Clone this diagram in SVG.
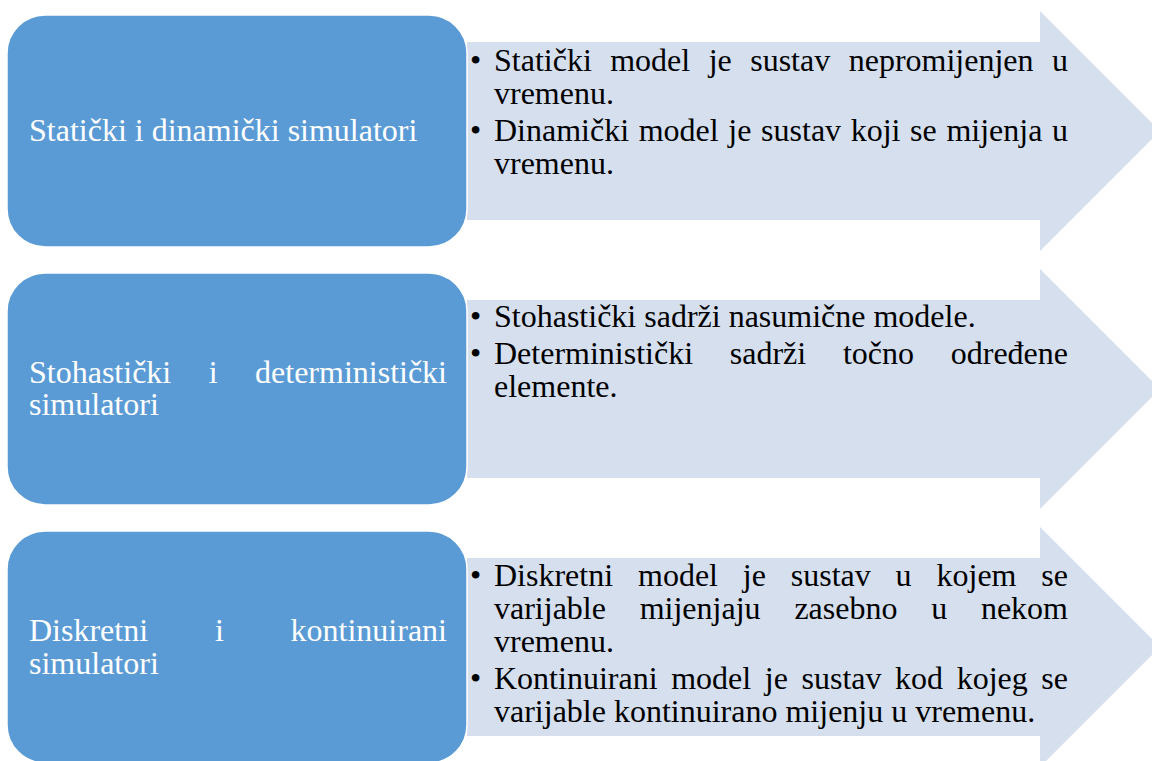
<svg xmlns="http://www.w3.org/2000/svg" width="1152" height="761" viewBox="0 0 1152 761">
<style>
.box{fill:#5B9BD5;stroke:#FFFFFF;stroke-width:1.5}
.arrow{fill:#D5DFEE;stroke:none}
.lt{font-family:"Liberation Serif","Times New Roman",serif;font-size:32px;fill:#FFFFFF}
.rt{font-family:"Liberation Serif","Times New Roman",serif;font-size:32px;fill:#000000}
.e{text-anchor:end}
</style>
<rect width="1152" height="761" fill="#FFFFFF"/>
<g id="connectors"></g>

<g id="arrow1">
<polygon class="arrow" points="467,42 1040,42 1040,11 1160,131 1040,251 1040,220 467,220"/>
<text class="rt" x="470" y="71">•</text>
<text class="rt" y="71"><tspan x="494">Statički</tspan><tspan x="610.2">model</tspan><tspan x="708.7">je</tspan><tspan x="750.2">sustav</tspan><tspan x="848.7">nepromijenjen</tspan></text>
<text class="rt e" x="1068" y="71">u</text>
<text class="rt" x="494" y="104">vremenu.</text>
<text class="rt" x="470" y="141">•</text>
<text class="rt" y="141"><tspan x="494">Dinamički</tspan><tspan x="638.7">model</tspan><tspan x="728.3">je</tspan><tspan x="761.1">sustav</tspan><tspan x="850.7">koji</tspan><tspan x="910.1">se</tspan><tspan x="946.4">mijenja</tspan></text>
<text class="rt e" x="1068" y="141">u</text>
<text class="rt" x="494" y="174">vremenu.</text>
</g>

<g id="arrow2">
<polygon class="arrow" points="467,300 1040,300 1040,269 1160,389 1040,509 1040,478 467,478"/>
<text class="rt" x="470" y="327">•</text>
<text class="rt" x="494" y="327">Stohastički sadrži nasumične modele.</text>
<text class="rt" x="470" y="364">•</text>
<text class="rt" y="364"><tspan x="494">Deterministički</tspan><tspan x="729.8">sadrži</tspan><tspan x="842.9">točno</tspan></text>
<text class="rt e" x="1068" y="364">određene</text>
<text class="rt" x="494" y="397">elemente.</text>
</g>

<g id="arrow3">
<polygon class="arrow" points="467,558 1040,558 1040,527 1160,647 1040,767 1040,736 467,736"/>
<text class="rt" x="470" y="586">•</text>
<text class="rt" y="586"><tspan x="494">Diskretni</tspan><tspan x="638">model</tspan><tspan x="742.8">je</tspan><tspan x="790.8">sustav</tspan><tspan x="895.6">u</tspan><tspan x="936.5">kojem</tspan></text>
<text class="rt e" x="1068" y="586">se</text>
<text class="rt" y="619"><tspan x="494">varijable</tspan><tspan x="639.7">mijenjaju</tspan><tspan x="794.4">zasebno</tspan><tspan x="931.2">u</tspan></text>
<text class="rt e" x="1068" y="619">nekom</text>
<text class="rt" x="494" y="652">vremenu.</text>
<text class="rt" x="470" y="689">•</text>
<text class="rt" y="689"><tspan x="494">Kontinuirani</tspan><tspan x="671.2">model</tspan><tspan x="764.8">je</tspan><tspan x="801.5">sustav</tspan><tspan x="895.1">kod</tspan><tspan x="956.7">kojeg</tspan></text>
<text class="rt e" x="1068" y="689">se</text>
<text class="rt" x="494" y="722">varijable kontinuirano mijenju u vremenu.</text>
</g>

<g id="box1">
<rect class="box" x="7" y="15" width="460" height="232" rx="38" ry="38"/>
<text class="lt" x="29" y="141">Statički i dinamički simulatori</text>
</g>

<g id="box2">
<rect class="box" x="7" y="273" width="460" height="232" rx="38" ry="38"/>
<text class="lt" y="383"><tspan x="29">Stohastički</tspan><tspan x="208.7">i</tspan></text>
<text class="lt e" x="447" y="383">deterministički</text>
<text class="lt" x="29" y="415">simulatori</text>
</g>

<g id="box3">
<rect class="box" x="7" y="531" width="460" height="232" rx="38" ry="38"/>
<text class="lt" y="641"><tspan x="29">Diskretni</tspan><tspan x="214.9">i</tspan></text>
<text class="lt e" x="447" y="641">kontinuirani</text>
<text class="lt" x="29" y="674">simulatori</text>
</g>
</svg>
